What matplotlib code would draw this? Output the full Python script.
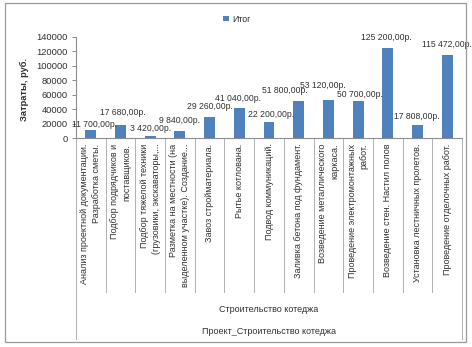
import matplotlib
matplotlib.use('Agg')
from matplotlib import pyplot as plt
from matplotlib import transforms
from matplotlib.patches import Rectangle

plt.rcParams['font.family'] = ['Liberation Sans', 'DejaVu Sans']

# данные диаграммы
tasks = [
    'Анализ проектной документации.\nРазработка сметы.',
    'Подбор подрядчиков и\nпоставщиков.',
    'Подбор тяжелой техники\n(грузовики, экскаваторы,...',
    'Разметка на местности (на\nвыделенном участке). Создание...',
    'Завоз стройматериала.',
    'Рытье котлована.',
    'Подвод коммуникаций.',
    'Заливка бетона под фундамент.',
    'Возведение металлического\nкаркаса.',
    'Проведение электромонтажных\nработ.',
    'Возведение стен. Настил полов',
    'Установка лестничных пролетов.',
    'Проведение отделочных работ.',
]
costs = [11700, 17680, 3420, 9840, 29260, 41040, 22200,
         51800, 53120, 50700, 125200, 17808, 115472]
group_label = 'Строительство котеджа'
project_label = 'Проект_Строительство котеджа'
series_name = 'Итог'
y_ticks = [0, 20000, 40000, 60000, 80000, 100000, 120000, 140000]

# сдвиги подписей (пиксели) относительно вершины столбца
label_dx = [4, 2.5, 0, 0, 0.5, -1, 2, -14, -6, 2, -1, -0.5, 0]
label_dy = [5.5, 13, 7, 10.5, 10, 10, 7, 10.5, 14, 7, 10, 9, 10]

W, H = 472, 347
BLUE = '#4F81BD'
GRAY = '#8C8C8C'
TEXT = '#303030'


def fmt_rub(v):
    s = f'{v:,}'.replace(',', ' ')
    return s + ',00р.'


fig = plt.figure(figsize=(W / 100, H / 100), dpi=100)

# рамка диаграммы
fig.patches.append(Rectangle((5 / W, 1 - 342 / H), 461 / W, 339 / H,
                             transform=fig.transFigure, fill=False,
                             edgecolor='#9A9A9A', linewidth=0.9))

left, right = 76 / W, 462 / W
bottom, top = 1 - 138 / H, 1 - 37 / H
ax = fig.add_axes([left, bottom, right - left, top - bottom])

x = list(range(len(costs)))
bars = ax.bar(x, costs, width=0.37, color=BLUE, label=series_name)

ax.set_xlim(-0.5, len(costs) - 0.5)
ax.set_ylim(0, 140000)
ax.set_yticks(y_ticks)
ax.set_yticklabels([str(t) for t in y_ticks])
ax.tick_params(axis='y', length=3, width=0.7, color=GRAY, pad=3,
               labelsize=6.7, labelcolor=TEXT)
ax.set_xticks(x)
ax.set_xticklabels(tasks, rotation=90, va='top', ha='center',
                   multialignment='right', linespacing=1.45,
                   fontsize=6.5, color=TEXT)
ax.tick_params(axis='x', length=0, pad=4)

for side in ('top', 'right'):
    ax.spines[side].set_visible(False)
for side in ('left', 'bottom'):
    ax.spines[side].set_color(GRAY)
    ax.spines[side].set_linewidth(0.8)

# подписи данных
for i, v in enumerate(costs):
    ax.annotate(fmt_rub(v), xy=(i, v),
                xytext=(label_dx[i] * 0.72, label_dy[i] * 0.72),
                textcoords='offset points', ha='center', va='center',
                fontsize=6.2, color=TEXT, annotation_clip=False)

# разделители категорий
trans = transforms.blended_transform_factory(ax.transData, fig.transFigure)
y0 = bottom
y_inner = 1 - 292 / H
y_outer = 1 - 339 / H
for k in range(len(costs) + 1):
    xe = k - 0.5
    ye = y_outer if k in (0, len(costs)) else y_inner
    ax.plot([xe, xe], [y0, ye], transform=trans, color='#B0B0B0',
            linewidth=0.7, clip_on=False)

cx = (left + right) / 2
fig.text(cx, 1 - 309 / H, group_label, ha='center', va='center',
         fontsize=6.5, color=TEXT)
fig.text(cx, 1 - 331 / H, project_label, ha='center', va='center',
         fontsize=6.5, color=TEXT)

fig.text(24 / W, 1 - 89 / H, 'Затраты, руб.', rotation=90, ha='center',
         va='center', fontsize=6.7, fontweight='bold', color=TEXT)

ax.legend(handles=[bars], loc='center', bbox_to_anchor=(237 / W, 1 - 19 / H),
          bbox_transform=fig.transFigure, frameon=False, fontsize=6.3,
          handlelength=0.6, handleheight=0.6, handletextpad=0.4,
          labelcolor=TEXT)

fig.savefig('out.png', dpi=100)
